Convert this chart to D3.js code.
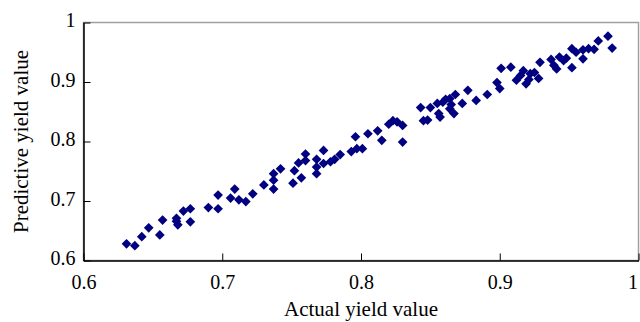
<!DOCTYPE html>
<html>
<head>
<meta charset="utf-8">
<script src="https://cdn.jsdelivr.net/npm/d3@7/dist/d3.min.js"></script>
<style>
  html, body { margin: 0; padding: 0; background: #fff; }
  svg { display: block; }
</style>
</head>
<body>
<svg id="chart" width="640" height="322"></svg>
<script>
// Data
const actual = [
  0.631, 0.637, 0.642, 0.647, 0.655, 0.657, 0.667, 0.668, 0.667, 0.672,
  0.677, 0.677, 0.690, 0.697, 0.697, 0.706, 0.709, 0.712, 0.717, 0.722,
  0.730, 0.737, 0.737, 0.737, 0.742, 0.751, 0.752, 0.757, 0.755, 0.760,
  0.760, 0.768, 0.768, 0.768, 0.773, 0.773, 0.778, 0.781, 0.785, 0.793,
  0.796, 0.797, 0.801, 0.805, 0.812, 0.815, 0.820, 0.823, 0.826, 0.830,
  0.830, 0.843, 0.850, 0.845, 0.848, 0.855, 0.856, 0.861, 0.864, 0.868,
  0.857, 0.864, 0.867, 0.873, 0.877, 0.883, 0.891, 0.898, 0.900, 0.901,
  0.908, 0.912, 0.915, 0.917, 0.919, 0.922, 0.921, 0.928, 0.929, 0.937,
  0.939, 0.941, 0.943, 0.946, 0.948, 0.952, 0.952, 0.955, 0.960, 0.960,
  0.964, 0.968, 0.971, 0.978, 0.981, 0.859, 0.865, 0.925
];
const predicted = [
  0.628, 0.625, 0.640, 0.655, 0.643, 0.668, 0.671, 0.660, 0.666, 0.683,
  0.687, 0.665, 0.689, 0.710, 0.687, 0.705, 0.720, 0.702, 0.699, 0.712,
  0.727, 0.746, 0.735, 0.720, 0.754, 0.730, 0.751, 0.739, 0.764, 0.779,
  0.768, 0.770, 0.757, 0.746, 0.785, 0.763, 0.766, 0.770, 0.778, 0.783,
  0.808, 0.788, 0.788, 0.813, 0.818, 0.802, 0.829, 0.835, 0.833, 0.827,
  0.799, 0.857, 0.857, 0.835, 0.836, 0.864, 0.847, 0.871, 0.872, 0.879,
  0.841, 0.855, 0.847, 0.864, 0.886, 0.869, 0.879, 0.899, 0.889, 0.923,
  0.925, 0.903, 0.911, 0.919, 0.897, 0.914, 0.904, 0.906, 0.933, 0.938,
  0.928, 0.922, 0.942, 0.936, 0.940, 0.924, 0.956, 0.950, 0.954, 0.939,
  0.956, 0.955, 0.969, 0.977, 0.957, 0.866, 0.862, 0.916
];
const xTicks = [0.6, 0.7, 0.8, 0.9, 1];
const yTicks = [0.6, 0.7, 0.8, 0.9, 1];
const xTitle = "Actual yield value";
const yTitle = "Predictive yield value";

const FONT = "Liberation Serif";
const svg = d3.select("#chart");
const mLeft = 83.5, mRight = 638.5, mTop = 22.5, mBottom = 260.5;

const x = d3.scaleLinear().domain([0.6, 1]).range([mLeft, mRight]);
const y = d3.scaleLinear().domain([0.6, 1]).range([mBottom, mTop]);

// plot area frame (grey top/right)
svg.append("rect")
  .attr("x", mLeft).attr("y", mTop)
  .attr("width", mRight - mLeft).attr("height", mBottom - mTop)
  .attr("fill", "none").attr("stroke", "#a0a0a0").attr("stroke-width", 1.5);

const fmt = d => (d === 1 ? "1" : d3.format(".1f")(d));

// X axis
const xAxis = svg.append("g")
  .attr("transform", `translate(0,${mBottom})`)
  .call(d3.axisBottom(x).tickValues(xTicks).tickFormat(fmt).tickSizeInner(-7).tickSizeOuter(0).tickPadding(14));
xAxis.attr("font-family", FONT).attr("font-size", 20);
xAxis.select(".domain").attr("stroke", "#000").attr("stroke-width", 1.5);
xAxis.selectAll(".tick line").attr("stroke", "#000");
xAxis.selectAll(".tick text")
  .attr("font-family", FONT).attr("font-size", 20).attr("fill", "#000")
  .attr("text-anchor", d => (d === 1 ? "end" : "middle"))
  .attr("dx", d => (d === 1 ? "-0.05em" : 0));

// Y axis
const yAxis = svg.append("g")
  .attr("transform", `translate(${mLeft},0)`)
  .call(d3.axisLeft(y).tickValues(yTicks).tickFormat(fmt).tickSizeInner(-7).tickSizeOuter(0).tickPadding(8));
yAxis.attr("font-family", FONT).attr("font-size", 20);
yAxis.select(".domain").attr("stroke", "#000").attr("stroke-width", 1.5);
yAxis.selectAll(".tick line").attr("stroke", "#000");
yAxis.selectAll(".tick text")
  .attr("font-family", FONT).attr("font-size", 20).attr("fill", "#000")
  .attr("dy", "0.2em");

// points (diamonds)
const diamond = d3.symbol().type(d3.symbolDiamond2).size(60);
svg.append("g")
  .selectAll("path")
  .data(actual.map((a, i) => [a, predicted[i]]))
  .join("path")
  .attr("d", diamond)
  .attr("transform", d => `translate(${x(d[0])},${y(d[1])})`)
  .attr("fill", "#000080");

// axis titles
svg.append("text")
  .attr("x", (mLeft + mRight) / 2).attr("y", 316)
  .attr("text-anchor", "middle")
  .attr("font-family", FONT).attr("font-size", 21).attr("fill", "#000")
  .text(xTitle);

svg.append("text")
  .attr("transform", `translate(28,${(mTop + mBottom) / 2}) rotate(-90)`)
  .attr("text-anchor", "middle")
  .attr("font-family", FONT).attr("font-size", 21).attr("fill", "#000")
  .text(yTitle);
</script>
</body>
</html>
